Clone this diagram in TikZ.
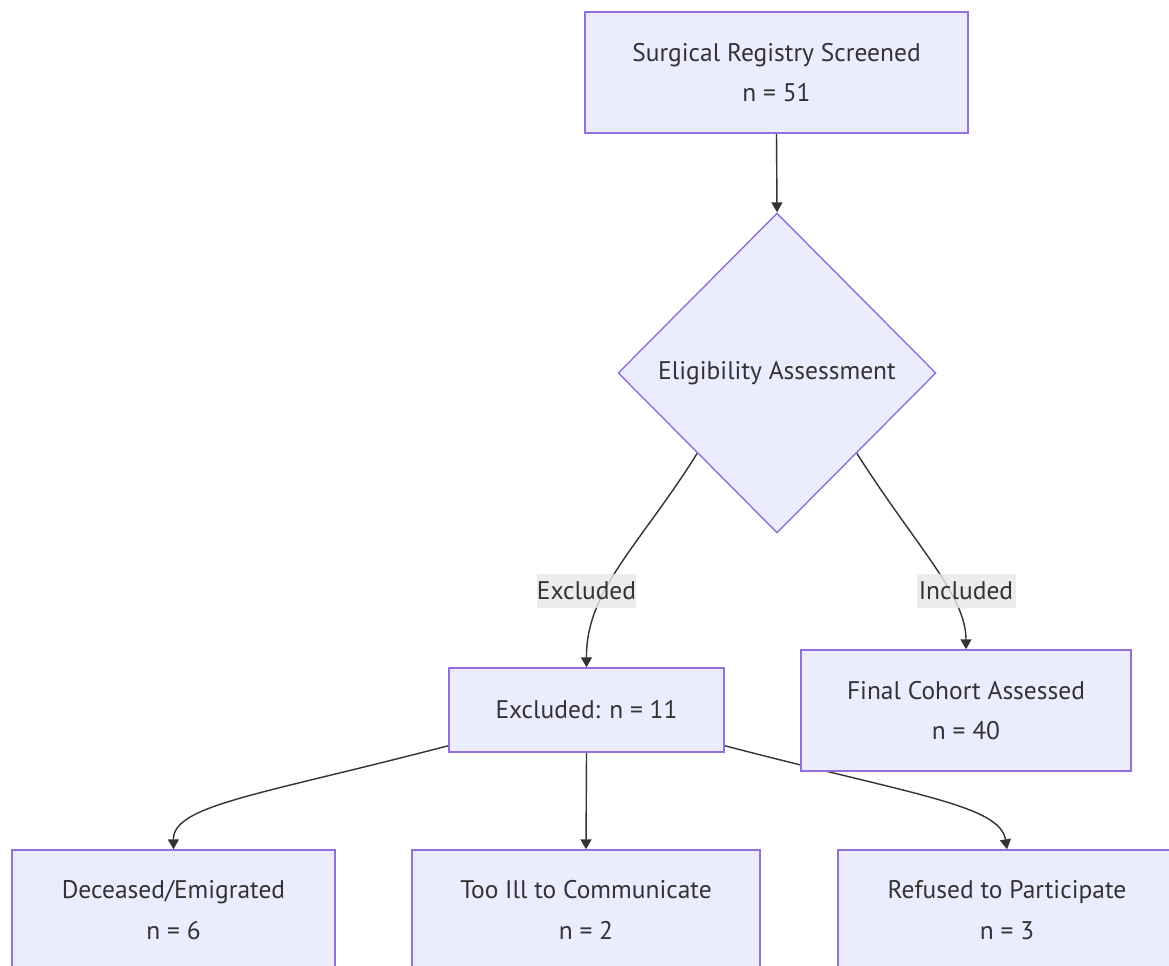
\documentclass[tikz,border=0pt]{standalone}
\usepackage{fontspec}
\setmainfont{PT Sans}
\usetikzlibrary{shapes.geometric,arrows.meta,backgrounds}
\definecolor{boxfill}{HTML}{ECECFF}
\definecolor{boxline}{HTML}{9370DB}
\definecolor{ink}{HTML}{333333}
\definecolor{lblbg}{HTML}{E8E8E8}
\tikzset{
  box/.style={draw=boxline, fill=boxfill, line width=0.8pt, text=ink, align=center,
    inner sep=0pt, font=\fontsize{14.5}{23}\selectfont},
  decision/.style={diamond, draw=boxline, fill=boxfill, line width=0.8pt, text=ink,
    inner sep=0pt, aspect=1, minimum width=6.36cm, minimum height=6.4cm,
    font=\fontsize{14.5}{23}\selectfont},
  lbl/.style={fill=lblbg, fill opacity=0.8, text opacity=1, text=ink, inner sep=0pt,
    minimum width=1.98cm, minimum height=0.68cm, font=\fontsize{14.5}{23}\selectfont},
  conn/.style={draw=ink, line width=0.8pt, -{Triangle[width=0.22cm,length=0.2cm]}}
}
\begin{document}
\begin{tikzpicture}[x=0.02cm,y=-0.02cm]
\clip (0,0) rectangle (1169,966);
\node[box, minimum width=7.66cm, minimum height=2.42cm] (top) at (776.5,72.5) {Surgical Registry Screened\\n = 51};
\node[decision] (elig) at (777,373) {Eligibility Assessment};
\node[box, minimum width=5.5cm, minimum height=1.68cm] (exc) at (586.5,710) {Excluded: n = 11};
\node[box, minimum width=6.6cm, minimum height=2.42cm] (fin) at (966,710.5) {Final Cohort Assessed\\n = 40};
\node[box, minimum width=6.46cm, minimum height=2.4cm] (dec) at (173.5,910) {Deceased/Emigrated\\n = 6};
\node[box, minimum width=6.96cm, minimum height=2.4cm] (ill) at (586,910) {Too Ill to Communicate\\n = 2};
\node[box, minimum width=6.76cm, minimum height=2.4cm] (ref) at (1007,910) {Refused to Participate\\n = 3};
\begin{pgfonlayer}{background}
\fill[white] (0,0) rectangle (1169,966);
\draw[conn] (top.south) -- (elig.north);
\draw[conn] (elig.south west) .. controls (640,545) and (586,590) .. (exc.north);
\draw[conn] (elig.south east) .. controls (915,545) and (966,595) .. (fin.north);
\draw[conn] ([yshift=0.14cm]exc.south west) .. controls (260,795) and (173,805) .. (dec.north);
\draw[conn] (exc.south) -- (ill.north);
\draw[conn] ([yshift=0.14cm]exc.south east) .. controls (913,795) and (1000,805) .. (ref.north);
\end{pgfonlayer}
\node[lbl] (lex) at (586.5,591) {Excluded};
\node[lbl] (lin) at (966,591) {Included};
\end{tikzpicture}
\end{document}
